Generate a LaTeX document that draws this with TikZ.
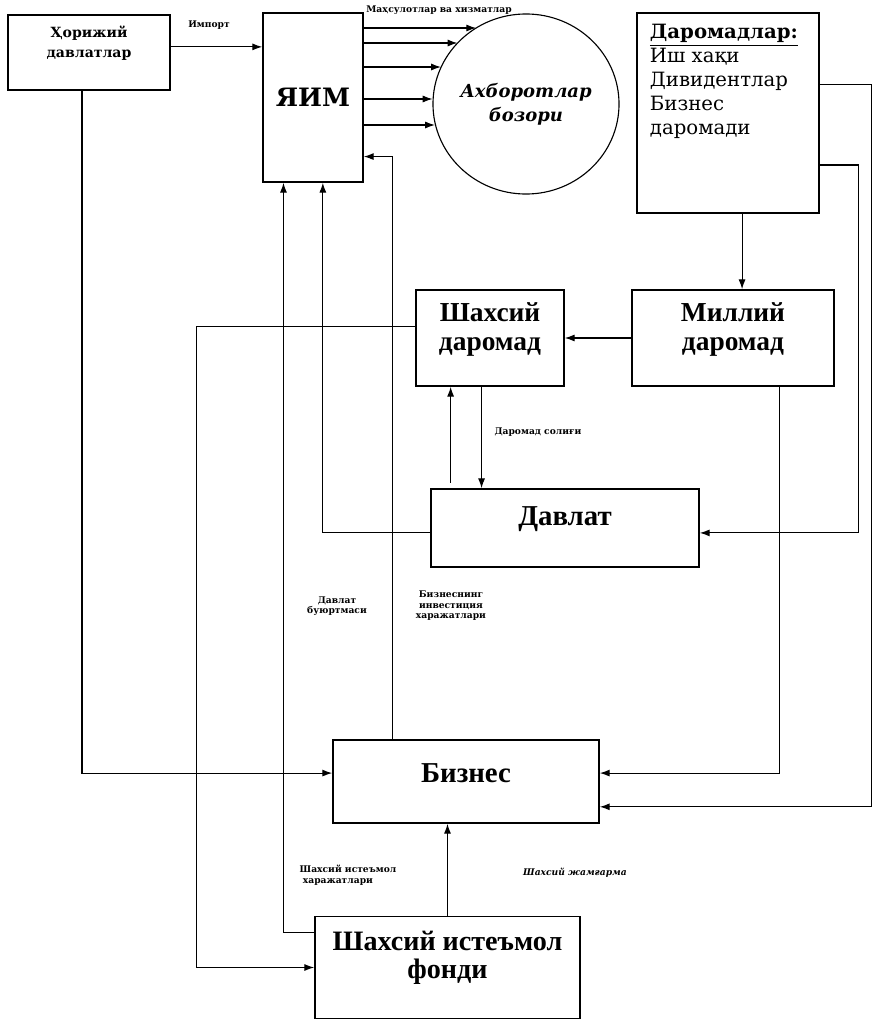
\documentclass[tikz,border=0pt]{standalone}
\usepackage{fontspec}
\setmainfont{Liberation Serif}
\newfontfamily\centfont{DejaVu Serif}
\usetikzlibrary{shapes.geometric,arrows.meta}

\begin{document}
\begin{tikzpicture}[x=0.025cm,y=-0.025cm,>={Latex[length=7pt,width=5pt]},
        box/.style={draw,line width=1.1pt,inner sep=0pt},
        arr/.style={->,line width=0.8pt},
        tinylbl/.style={font=\centfont\bfseries\fontsize{6.5}{7.5}\selectfont,align=center,inner sep=0pt},
        bigtxt/.style={font=\bfseries\fontsize{20.5}{21}\selectfont}]
        \useasboundingbox (0,0) rectangle (872,1019);
        % top row
        \node[box,font=\centfont\bfseries\fontsize{10}{14}\selectfont] (horij) at (89,52.5)
            {\parbox[c][1.875cm][t]{4.05cm}{\centering\rule{0pt}{0.575cm}Ҳорижий\\давлатлар}};
        \node[box,minimum width=2.5cm,minimum height=4.225cm,font=\centfont\bfseries\fontsize{18}{20}\selectfont] (yaim) at (313,97.5) {ЯИМ};
        \node[draw,ellipse,line width=0.8pt,minimum width=4.65cm,minimum height=4.5cm,inner sep=0pt,align=center,
            font=\centfont\bfseries\itshape\fontsize{12.8}{17}\selectfont] (bozor) at (526,104) {Ахборотлар\\бозори};
        \node[box,font=\centfont\fontsize{14}{17}\selectfont] (daromadlar) at (728,113)
            {\parbox[c][5cm][t]{4.55cm}{\raggedright\leftskip=0.325cm\rule{0pt}{0.65cm}\textbf{\underline{Даромадлар:}}\\Иш хақи\\Дивидентлар\\Бизнес\\даромади}};
        % middle
        \node[box,font=\bfseries\fontsize{19.5}{21}\selectfont] (shaxs) at (490,338)
            {\parbox[c][2.4cm][t]{3.7cm}{\centering\rule{0pt}{0.775cm}Шахсий\\даромад}};
        \node[box,font=\bfseries\fontsize{19.5}{21}\selectfont] (milliy) at (733,338)
            {\parbox[c][2.4cm][t]{5.05cm}{\centering\rule{0pt}{0.775cm}Миллий\\даромад}};
        \node[box,bigtxt] (davlat) at (565,528)
            {\parbox[c][1.95cm][t]{6.7cm}{\centering\rule{0pt}{0.9cm}Давлат}};
        % bottom
        \node[box,bigtxt] (biznes) at (466,781.5)
            {\parbox[c][2.075cm][t]{6.65cm}{\centering\rule{0pt}{1.05cm}Бизнес}};
        \node[box,font=\bfseries\fontsize{20}{20}\selectfont] (fond) at (447.5,967.5)
            {\parbox[c][2.55cm][t]{6.625cm}{\centering\rule{0pt}{0.84cm}Шахсий истеъмол\\фонди}};

        % small labels
        \node[tinylbl] (limport) at (209,25) {Импорт};
        \node[tinylbl] (lmahsulot) at (439,10) {Маҳсулотлар ва хизматлар};
        \node[tinylbl] (lsoliq) at (538,432) {Даромад солиғи};
        \node[tinylbl] (lbuyurtma) at (337,606) {Давлат\\буюртмаси};
        \node[tinylbl] (linvest) at (451,606) {Бизнеснинг\\инвестиция\\харажатлари};
        \node[tinylbl,align=left] (listemol) at (348,875) {Шахсий истеъмол\\\ харажатлари};
        \node[tinylbl,font=\centfont\bfseries\itshape\fontsize{6.5}{7.5}\selectfont] (ljamgarma) at (575,873) {Шахсий жамғарма};

        % connectors
        \draw[arr] ([yshift=4pt]horij.east) -- ([yshift=4pt]horij.east -| yaim.west);
        \foreach \y/\a in {28/123,43/138,67/156.5,99/177,125/193}
            \draw[arr] (yaim.east |- 0,\y) -- (bozor.\a |- 0,\y);
        \draw[arr] ([xshift=10pt]daromadlar.south) -- ([xshift=10pt]daromadlar.south |- milliy.north);
        \draw[arr] (milliy.west) -- (shaxs.east);
        \draw[arr] ([yshift=8pt]shaxs.west) -- ++(-219,0) |- (fond.west);
        \draw[arr] ([yshift=25pt]fond.west) -| ([xshift=-21pt]yaim.south);
        \draw[arr] ([yshift=-3.5pt]davlat.west) -| ([xshift=7pt]yaim.south);
        \draw[arr] ([xshift=-52.5pt]biznes.north) |- ([yshift=-42pt]yaim.east);
        \draw[arr] ([xshift=-5pt]horij.south) |- ([yshift=6pt]biznes.west);
        \draw[arr,shorten <=4pt] ([xshift=-28pt]shaxs.south |- davlat.north) -- ([xshift=-28pt]shaxs.south);
        \draw[arr] ([xshift=-6pt]shaxs.south) -- ([xshift=-6pt]shaxs.south |- davlat.north);
        \draw[arr] ([xshift=33pt]milliy.south) |- ([yshift=6pt]biznes.east);
        \draw[arr] ([yshift=-37pt]daromadlar.east) -- ++(39,0) |- ([yshift=-3.5pt]davlat.east);
        \draw[arr] ([yshift=20.5pt]daromadlar.east) -- ++(52,0) |- ([yshift=-18pt]biznes.east);
        \draw[arr] (fond.north) -- (fond.north |- biznes.south);
    \end{tikzpicture}
\end{document}
